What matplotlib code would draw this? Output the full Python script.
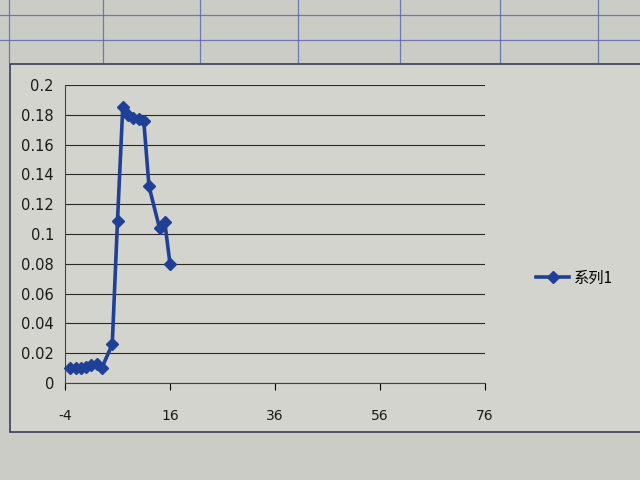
import matplotlib
matplotlib.use("Agg")
import matplotlib.pyplot as plt
from matplotlib.lines import Line2D
from matplotlib.patches import Rectangle

# series values
x_vals = [-3, -2, -1, 0, 1, 2, 3, 5, 6, 7, 8, 9, 10, 11, 12, 14, 15, 16]
y_vals = [0.010, 0.010, 0.010, 0.011, 0.012, 0.013, 0.010, 0.026, 0.109,
          0.185, 0.180, 0.178, 0.177, 0.176, 0.132, 0.104, 0.108, 0.080]
series_name = "系列1"
x_ticks = [-4, 16, 36, 56, 76]
y_ticks = [0, 0.02, 0.04, 0.06, 0.08, 0.1, 0.12, 0.14, 0.16, 0.18, 0.2]
y_labels = ["0", "0.02", "0.04", "0.06", "0.08", "0.1", "0.12", "0.14", "0.16", "0.18", "0.2"]

SHEET = "#cbccc5"
CHART = "#d3d4cd"
CELL = "#5a64a8"
LINE = "#1f4096"
TEXT = "#1a1a1a"

plt.rcParams['font.family'] = ['DejaVu Sans', 'Noto Sans CJK SC']
plt.rcParams['axes.unicode_minus'] = False

fig = plt.figure(figsize=(6.4, 4.8), dpi=100)
fig.patch.set_facecolor(SHEET)

# spreadsheet cells behind the chart
for yy in [1 - 15 / 480, 1 - 40 / 480]:
    fig.add_artist(Line2D([0, 1], [yy, yy], color=CELL, lw=0.9, alpha=0.8, zorder=-2))
for xx in [9, 103, 200, 298, 400, 500, 598]:
    fig.add_artist(Line2D([xx / 640, xx / 640], [1 - 62 / 480, 1], color=CELL, lw=0.9,
                          alpha=0.8, zorder=-2))

# chart area
fig.add_artist(Rectangle((10 / 640, 1 - 432 / 480), 640, (432 - 64) / 480,
                         facecolor=CHART, edgecolor="#3a3d55", lw=1.2, zorder=-1))

ax = fig.add_axes([65 / 640, 1 - 383 / 480, 420 / 640, 298 / 480])
ax.set_zorder(2)
ax.patch.set_alpha(0)

ax.plot(x_vals, y_vals, color=LINE, lw=2.6, marker='D', markersize=6.5,
        markerfacecolor=LINE, markeredgecolor=LINE, label=series_name, clip_on=False)

ax.set_xlim(-4, 76)
ax.set_ylim(0, 0.2)
ax.set_xticks(x_ticks)
ax.set_yticks(y_ticks)
ax.set_yticklabels(y_labels)
ax.yaxis.grid(True, color="#2a2a2a", lw=0.8)
ax.set_axisbelow(True)

for side in ['top', 'right']:
    ax.spines[side].set_visible(False)
ax.spines['left'].set_color("#444444")
ax.spines['bottom'].set_color("#444444")
ax.tick_params(axis='y', length=0, labelsize=10.5, labelcolor=TEXT, pad=8)
ax.tick_params(axis='x', length=5, direction='out', labelsize=10, labelcolor=TEXT, pad=14)

leg = fig.legend(loc='center left', bbox_to_anchor=(522 / 640, 1 - 278 / 480),
                 frameon=False, handlelength=2.2, handletextpad=0.3,
                 prop={'family': ['Noto Sans CJK SC', 'DejaVu Sans'], 'size': 11})

fig.savefig("out.png", dpi=100, facecolor=SHEET)
